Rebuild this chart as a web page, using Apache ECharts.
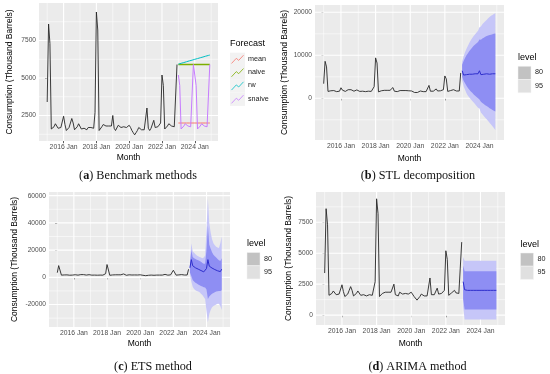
<!DOCTYPE html>
<html><head><meta charset="utf-8">
<script src="https://cdn.jsdelivr.net/npm/echarts@6/dist/echarts.min.js"></script>
<style>html,body{margin:0;padding:0;background:#fff}#c{width:550px;height:374px}</style>
</head><body><div id="c"></div><script>
// ---- Data: monthly consumption, Jan 2015 .. Dec 2022 (month index 0..95) ----
const histValues = [
  3400, 8600, 7300, 1600, 1550, 1750, 1950, 1800, 1650, 1550, 1700, 1650,
  2450, 1900, 1500, 1600, 1700, 2000, 2300, 2000, 1550, 1650, 1750, 1950,
  1900, 1600, 1500, 1650, 1700, 1550, 1700, 1650, 1700, 1600, 1650, 2700,
  9400, 8200, 1500, 1600, 1750, 1900, 1850, 1800, 1850, 1800, 1850, 1800,
  2500, 1650, 1500, 1550, 1850, 1800, 1700, 1800, 1750, 1800, 1700, 1750,
  1850, 1700, 1500, 1350, 1210, 1350, 1500, 1700, 1650, 1550, 1500, 1550,
  1650, 3000, 1650, 1500, 1650, 1600, 2180, 1700, 1600, 1750, 1800, 2000,
  5200, 4500, 1600, 1500, 1800, 1950, 2000, 1800, 1700, 1750, 1700, 5900
];
const histStartIndex = 0;      // Jan 2015
const forecastStartIndex = 96; // Jan 2023

// (a) benchmark forecasts, Jan 2023 .. Dec 2024
const meanFc = [2000,2000,2000,2000,2000,2000,2000,2000,2000,2000,2000,2000,2000,2000,2000,2000,2000,2000,2000,2000,2000,2000,2000,2000];
const naiveFc = [5900,5900,5900,5900,5900,5900,5900,5900,5900,5900,5900,5900,5900,5900,5900,5900,5900,5900,5900,5900,5900,5900,5900,5900];
const rwFc = [5925,5950,5980,6005,6030,6060,6085,6110,6140,6165,6190,6215,6245,6270,6295,6320,6350,6375,6400,6425,6455,6480,6505,6530];
const snaiveFc = [5200,4500,1600,1500,1800,1950,2000,1800,1700,1750,1700,5900,5200,4500,1600,1500,1800,1950,2000,1800,1700,1750,1700,5900];

// (b) STL forecast
const stlMean = [6400,5400,5500,5500,5600,5600,5700,5600,5600,5700,5600,5700,6400,5500,5600,5600,5700,5700,5700,5600,5700,5700,5700,5700];
const stlLo80 = [5000,4100,3500,2900,2400,2000,1600,1300,900,600,300,0,-300,-800,-1100,-1300,-1600,-1800,-2000,-2300,-2500,-2700,-2900,-3100];
const stlHi80 = [7800,8700,9400,10000,10500,11000,11400,11800,12200,12500,12800,13100,13700,13600,13900,14100,14300,14500,14600,14700,14800,14900,15000,15100];
const stlLo95 = [4200,2800,2000,1200,600,200,-200,-600,-1000,-1400,-1800,-2200,-2400,-3300,-3700,-4100,-4500,-4900,-5300,-5700,-6100,-6500,-6900,-7400];
const stlHi95 = [8500,9800,10700,11500,12200,12900,13500,14000,14500,14900,15300,15700,16500,16700,17200,17600,17900,18200,18600,18900,19200,19400,19600,19800];

// (c) ETS forecast
const etsMean = [7000,13000,8500,7800,7000,6500,6000,5500,5000,4500,4000,3700,6500,13000,8200,7500,6800,6200,5700,5200,4800,4400,4200,6000];
const etsLo80 = [3500,1000,-2000,-3000,-4000,-4500,-5200,-5800,-6300,-6800,-7200,-7500,-9000,-16000,-14000,-13000,-12000,-11500,-11000,-10500,-10300,-10000,-10000,-9500];
const etsHi80 = [9000,20000,15000,14000,13500,13000,12500,12000,11500,10500,10000,10000,20000,38000,24000,21000,18500,16500,15500,14500,13500,12500,12000,14000];
const etsLo95 = [2000,-3000,-7000,-8500,-9500,-10000,-10500,-11000,-12000,-13000,-14500,-16000,-25000,-33000,-27000,-24000,-22000,-21000,-20500,-20000,-19500,-19500,-21000,-24000];
const etsHi95 = [11000,25000,19000,18000,17000,16000,15500,15000,14500,14000,14500,16000,35000,58000,40000,33000,28000,25000,23500,22500,22000,21500,25000,30000];

// (d) ARIMA forecast
const arimaMean = [2700,2050,2000,2000,2000,2000,2000,2000,2000,2000,2000,2000,2000,2000,2000,2000,2000,2000,2000,2000,2000,2000,2000,2000];
const arimaLo80 = [1300,450,450,450,450,450,450,450,450,450,450,450,450,450,450,450,450,450,450,450,450,450,450,450];
const arimaHi80 = [4000,3550,3550,3550,3550,3550,3550,3550,3550,3550,3550,3550,3550,3550,3550,3550,3550,3550,3550,3550,3550,3550,3550,3550];
const arimaLo95 = [700,-350,-350,-350,-350,-350,-350,-350,-350,-350,-350,-350,-350,-350,-350,-350,-350,-350,-350,-350,-350,-350,-350,-350];
const arimaHi95 = [4700,4400,4400,4400,4400,4400,4400,4400,4400,4400,4400,4400,4400,4400,4400,4400,4400,4400,4400,4400,4400,4400,4400,4400];

// axis ticks (month index: 0 = Jan 2015)
const xMajorTicks = [12, 36, 60, 84, 108];
const xTickLabels = ['2016 Jan', '2018 Jan', '2020 Jan', '2022 Jan', '2024 Jan'];
const xMinorTicks = [0, 24, 48, 72, 96, 120];
const yTicksA = [2500, 5000, 7500], yMinorA = [1250, 3750, 6250, 8750];
const yTicksB = [0, 10000, 20000], yMinorB = [-5000, 5000, 15000];
const yTicksC = [-20000, 0, 20000, 40000, 60000], yMinorC = [-30000, -10000, 10000, 30000, 50000];
const yTicksD = [0, 2500, 5000, 7500], yMinorD = [1250, 3750, 6250, 8750];

const benchNames = ['mean', 'naive', 'rw', 'snaive'];
const benchColors = ['#F8766D', '#7CAE00', '#00BFC4', '#C77CFF'];
const levelNames = ['80', '95'];
const captions = [['a', ' Benchmark methods'], ['b', ' STL decomposition'], ['c', ' ETS method'], ['d', ' ARIMA method']];

// ---- Layout / style ----
const BAND80 = '#8E8EF3', BAND95 = '#C6C6F8', FCLINE = '#2E2ECC', HIST = '#262626';
const SANS = 'Liberation Sans, Arial, sans-serif';
const X_MIN = -6, X_MAX = 125;
const panels = [
  {grid: {left: 39, top: 3, width: 179, height: 138}, ymin: 800, ymax: 10000, ticks: yTicksA, minor: yMinorA, yGap: 25, xGap: 12.5},
  {grid: {left: 315, top: 5, width: 189, height: 135}, ymin: -9700, ymax: 21700, ticks: yTicksB, minor: yMinorB, yGap: 25.5, xGap: 14},
  {grid: {left: 49, top: 192, width: 181, height: 135}, ymin: -36500, ymax: 62700, ticks: yTicksC, minor: yMinorC, yGap: 29.5, xGap: 12.5},
  {grid: {left: 316, top: 192, width: 189, height: 133}, ymin: -800, ymax: 9950, ticks: yTicksD, minor: yMinorD, yGap: 23, xGap: 14}
];

const pairs = (arr, start) => arr.map((v, i) => [start + i, v]);
const fcPairs = arr => pairs(arr, forecastStartIndex);

const grids = [], xAxes = [], yAxes = [], series = [];
panels.forEach((p, gi) => {
  grids.push(Object.assign({show: true, backgroundColor: '#EBEBEB', borderWidth: 0}, p.grid));
  xAxes.push({
    type: 'value', gridIndex: gi, min: X_MIN, max: X_MAX,
    axisLine: {show: false},
    axisTick: {show: true, customValues: xMajorTicks, length: 2.2, lineStyle: {color: '#333', width: 0.8}},
    axisLabel: {customValues: xMajorTicks, fontSize: 6.8, color: '#4D4D4D', margin: 3, fontFamily: SANS,
      formatter: v => { const k = xMajorTicks.indexOf(v); return k >= 0 ? xTickLabels[k] : ''; }},
    splitLine: {show: false},
    name: 'Month', nameLocation: 'middle', nameGap: p.xGap,
    nameTextStyle: {fontSize: 8.5, color: '#000', fontFamily: SANS}
  });
  yAxes.push({
    type: 'value', gridIndex: gi, min: p.ymin, max: p.ymax,
    axisLine: {show: false},
    axisTick: {show: true, customValues: p.ticks, length: 2.2, lineStyle: {color: '#333', width: 0.8}},
    axisLabel: {customValues: p.ticks, fontSize: 6.6, color: '#4D4D4D', margin: 3, fontFamily: SANS,
      formatter: v => String(v)},
    splitLine: {show: false},
    name: 'Consumption (Thousand Barrels)', nameLocation: 'middle', nameGap: p.yGap,
    nameTextStyle: {fontSize: 8.5, color: '#000', fontFamily: SANS}
  });
  // grid lines
  const gdata = [];
  xMajorTicks.forEach(v => gdata.push([0, v, 1]));
  xMinorTicks.forEach(v => gdata.push([0, v, 0]));
  p.ticks.forEach(v => gdata.push([1, v, 1]));
  p.minor.forEach(v => gdata.push([1, v, 0]));
  series.push({
    type: 'custom', xAxisIndex: gi, yAxisIndex: gi, z: 1, silent: true, clip: false, data: gdata,
    renderItem: (params, api) => {
      const cs = params.coordSys;
      const dir = api.value(0), v = api.value(1), major = api.value(2);
      let shape;
      if (dir === 0) { const x = api.coord([v, p.ymin])[0]; shape = {x1: x, y1: cs.y, x2: x, y2: cs.y + cs.height}; }
      else { const y = api.coord([X_MIN, v])[1]; shape = {x1: cs.x, y1: y, x2: cs.x + cs.width, y2: y}; }
      return {type: 'line', shape, style: {stroke: '#FFFFFF', lineWidth: major ? 1.1 : 0.55}};
    }
  });
  // historical line
  series.push({type: 'line', xAxisIndex: gi, yAxisIndex: gi, data: pairs(histValues, histStartIndex), symbol: 'none',
    lineStyle: {color: HIST, width: 0.9}, z: 5, silent: true, animation: false});
});

// prediction band as one polygon, positioned through the axes (api.coord)
function band(gi, lo, hi, color, z) {
  const data = lo.map((v, i) => [forecastStartIndex + i, v, hi[i]]);
  return {
    type: 'custom', xAxisIndex: gi, yAxisIndex: gi, z, silent: true, data,
    encode: {x: 0, y: [1, 2]},
    renderItem: (params, api) => {
      if (params.dataIndex !== 0) return null;
      const upper = data.map(d => api.coord([d[0], d[2]]));
      const lower = data.map(d => api.coord([d[0], d[1]])).reverse();
      return {type: 'polygon', shape: {points: upper.concat(lower)}, style: {fill: color, stroke: null}};
    }
  };
}
function fcLine(gi, arr, color, width, z) {
  return {type: 'line', xAxisIndex: gi, yAxisIndex: gi, data: fcPairs(arr), symbol: 'none',
    lineStyle: {color, width}, z, silent: true, animation: false};
}

// (a)
series.push(fcLine(0, meanFc, benchColors[0], 1, 6));
series.push(fcLine(0, naiveFc, benchColors[1], 1.5, 6));
series.push(fcLine(0, rwFc, benchColors[2], 1, 6));
series.push(fcLine(0, snaiveFc, benchColors[3], 1, 6));
// (b)
series.push(band(1, stlLo95, stlHi95, BAND95, 2));
series.push(band(1, stlLo80, stlHi80, BAND80, 3));
series.push(fcLine(1, stlMean, FCLINE, 1, 6));
// (c)
series.push(band(2, etsLo95, etsHi95, BAND95, 2));
series.push(band(2, etsLo80, etsHi80, BAND80, 3));
series.push(fcLine(2, etsMean, FCLINE, 1, 6));
// (d)
series.push(band(3, arimaLo95, arimaHi95, BAND95, 2));
series.push(band(3, arimaLo80, arimaHi80, BAND80, 3));
series.push(fcLine(3, arimaMean, FCLINE, 1, 6));

// ---- Legends & captions (graphic) ----
const graphic = [];
// (a) Forecast legend
graphic.push({type: 'text', left: 230, top: 39, style: {text: 'Forecast', font: '9px ' + SANS, fill: '#000'}});
benchNames.forEach((n, i) => {
  const y0 = 52.7 + i * 13.3, x0 = 230, w = 15, h = 13.3;
  graphic.push({type: 'rect', shape: {x: x0, y: y0, width: w, height: h}, style: {fill: '#F2F2F2'}});
  const pts = [[0, 0.1], [0.4, 0.6], [0.6, 0.4], [1, 0.9]].map(([a, b]) => [x0 + 1.5 + a * (w - 3), y0 + h - 1.5 - b * (h - 3)]);
  graphic.push({type: 'polyline', shape: {points: pts}, style: {stroke: benchColors[i], lineWidth: 0.8, fill: null}});
  graphic.push({type: 'text', left: 248, top: y0 + h / 2 - 4, style: {text: n, font: '7.2px ' + SANS, fill: '#1a1a1a'}});
});
// level legends
const levelLegends = [{x: 518, y: 58.3}, {x: 247, y: 244.5}, {x: 520.5, y: 245}];
const levelFill = ['#C2C2C2', '#E0E0E0'];
levelLegends.forEach(L => {
  graphic.push({type: 'text', left: L.x, top: L.y - 5, style: {text: 'level', font: '9px ' + SANS, fill: '#000'}});
  levelNames.forEach((n, i) => {
    const y0 = L.y + 8 + i * 13.2;
    graphic.push({type: 'rect', shape: {x: L.x, y: y0, width: 13, height: 13.2}, style: {fill: levelFill[i], stroke: '#F2F2F2', lineWidth: 0.5}});
    graphic.push({type: 'text', left: L.x + 17, top: y0 + 2.6, style: {text: n, font: '7.2px ' + SANS, fill: '#1a1a1a'}});
  });
});
// captions
const capPos = [{x: 138, y: 175.7}, {x: 418, y: 175.7}, {x: 153, y: 366.7}, {x: 417.5, y: 366.7}];
captions.forEach((c, i) => {
  graphic.push({type: 'text', x: capPos[i].x, y: capPos[i].y, style: {
    text: '(' + '{b|' + c[0] + '}' + ')' + c[1], align: 'center', verticalAlign: 'middle',
    font: '12.2px Liberation Serif, Times New Roman, serif', fill: '#111',
    rich: {b: {fontWeight: 'bold', fontSize: 12.2, fontFamily: 'Liberation Serif, Times New Roman, serif', fill: '#111'}}
  }});
});

const chart = echarts.init(document.getElementById('c'), null, {renderer: 'canvas'});
chart.setOption({animation: false, grid: grids, xAxis: xAxes, yAxis: yAxes, series, graphic});
</script></body></html>
